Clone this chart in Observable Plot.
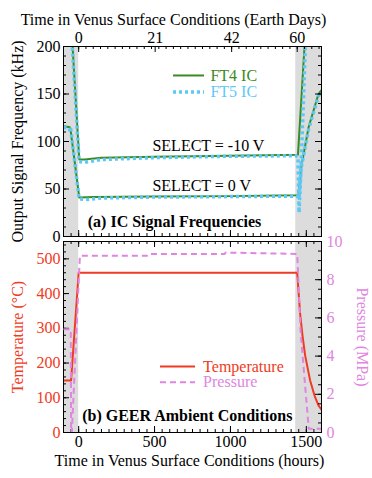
<!DOCTYPE html>
<html><head><meta charset="utf-8">
<script src="https://cdn.jsdelivr.net/npm/d3@7"></script>
<script src="https://cdn.jsdelivr.net/npm/@observablehq/plot@0.6"></script>
<style>
body{margin:0;background:#fff;}
#wrap{position:relative;width:372px;height:478px;}
#wrap svg{position:absolute;left:0;overflow:visible;font-family:"Liberation Serif",serif !important;font-size:16px !important;background:transparent !important;}
#wrap svg text{font-family:"Liberation Serif",serif !important;}
</style></head><body><div id="wrap"></div>
<script>
// ---- data (hours, value) ----
const hourTicks = [0, 500, 1000, 1500];
const dayTicks = [0, 21, 42, 60];
const freqTicks = [0, 50, 100, 150, 200];
const tempTicks = [0, 100, 200, 300, 400, 500];
const pressTicks = [0, 2, 4, 6, 8, 10];

const ft4Sel10 = [[-42,205],[4,81],[40,81],[150,83],[500,84],[1000,85],[1445,86],[1490,205]];
const ft4Sel0 = [[-100,116],[-58,115],[-54,113],[4,41],[100,41.5],[500,42],[1000,42.5],[1448,43.5],[1465,72],[1515,115],[1580,150],[1600,154]];
const ft5Sel10 = [[-44,205],[3,79],[40,78],[150,81],[500,83],[1000,84.5],[1432,85],[1445,84],[1452,25],[1462,60],[1495,205]];
const ft5Sel0 = [[-100,115],[-62,114],[-56,110],[-52,113],[3,39.5],[60,39],[150,40.5],[500,41.5],[1000,42],[1440,42.5],[1452,40],[1466,72],[1515,113],[1580,148],[1600,152]];

const temperature = [[-100,150],[-50,150],[0,460],[1440,460],[1459,342],[1475,278],[1492,222],[1525,150],[1555,105],[1580,78],[1600,66]];
const pressure = [[-100,5.4],[-52,5.4],[-50,0],[-45,0],[8,9.25],[450,9.25],[460,9.35],[960,9.35],[970,9.42],[1440,9.35],[1462,5.3],[1516,0.2],[1600,0.2]];

const shadeSpans = [[-100,0],[1430,1600]];

// ---- style ----
const STYLE = "font-family:'Liberation Serif',serif;font-size:16px;color:black;background:transparent;";
const green = "#3a8a22", blue = "#5ec8f5", red = "#f03a22", violet = "#e085e0", shade = "#dcdcdc";
const W = 372, ML = 63, MR = 51, FW = W - ML - MR;
const xDomain = [-100, 1600];

function ticksX(vals, len, side, FH) {
  const o = {x: d => d, stroke: "black", strokeWidth: 1};
  o[side === "bottom" ? "insetTop" : "insetBottom"] = FH - len;
  return Plot.tickX(vals, o);
}
function ticksY(vals, len, side) {
  const o = {y: d => d, stroke: "black", strokeWidth: 1};
  o[side === "left" ? "insetRight" : "insetLeft"] = FW - len;
  return Plot.tickY(vals, o);
}
const minorHours = d3.range(-100, 1601, 50);
const minorDays = d3.range(0, 67, 2).map(d => d * 24);
const dotted = {strokeWidth: 3.5, strokeDasharray: "3,3", strokeLinecap: "butt"};
const dashed = {strokeWidth: 2, strokeDasharray: "6,4", strokeLinecap: "butt"};

const wrap = document.getElementById("wrap");

// ---- top panel ----
const tH = 240, tMT = 46, tMB = 4, tFH = tH - tMT - tMB;
const p1 = Plot.plot({
  width: W, height: tH, marginTop: tMT, marginBottom: tMB, marginLeft: ML, marginRight: MR,
  style: STYLE,
  x: {domain: xDomain, axis: null},
  y: {domain: [0, 200], axis: null},
  marks: [
    Plot.rect(shadeSpans, {x1: d => d[0], x2: d => d[1], fill: shade}),
    Plot.line(ft4Sel10, {stroke: green, strokeWidth: 2, clip: true}),
    Plot.line(ft4Sel0, {stroke: green, strokeWidth: 2, clip: true}),
    Plot.line(ft5Sel10, {stroke: blue, ...dotted, clip: true}),
    Plot.line(ft5Sel0, {stroke: blue, ...dotted, clip: true}),
    ticksX(minorHours, 3, "bottom", tFH),
    ticksX(hourTicks, 6, "bottom", tFH),
    ticksX(minorDays, 3, "top", tFH),
    ticksX(dayTicks.map(d => d * 24), 6, "top", tFH),
    ticksY(d3.range(0, 201, 10), 3, "left"),
    ticksY(freqTicks, 6, "left"),
    ticksY(d3.range(0, 201, 10), 3, "right"),
    ticksY(freqTicks, 6, "right"),
    Plot.frame({stroke: "black"}),
    Plot.axisX(dayTicks.map(d => d * 24), {anchor: "top", tickSize: 0, tickPadding: 4, tickFormat: d => String(d / 24), label: null}),
    Plot.axisY(freqTicks, {anchor: "left", tickSize: 0, tickPadding: 3, tickFormat: d => String(d), label: null}),
    Plot.text(["Time in Venus Surface Conditions (Earth Days)"], {frameAnchor: "top", dx: -19, dy: -33, textAnchor: "middle"}),
    Plot.text(["Output Signal Frequency (kHz)"], {frameAnchor: "left", dx: -46, rotate: -90, textAnchor: "middle"}),
    Plot.ruleY([169.5], {x1: 625, x2: 829, stroke: green, strokeWidth: 2}),
    Plot.ruleY([152], {x1: 625, x2: 829, stroke: blue, ...dotted}),
    Plot.text(["FT4 IC"], {x: 868, y: 169.5, textAnchor: "start", fill: green}),
    Plot.text(["FT5 IC"], {x: 868, y: 152, textAnchor: "start", fill: blue}),
    Plot.text(["SELECT = -10 V"], {x: 486, y: 95, textAnchor: "start"}),
    Plot.text(["SELECT = 0 V"], {x: 486, y: 52.8, textAnchor: "start"}),
    Plot.text(["(a) IC Signal Frequencies"], {x: 60, y: 15, textAnchor: "start", fontWeight: "bold"})
  ]
});
p1.style.top = "0px";
wrap.appendChild(p1);

// ---- bottom panel ----
const bTop = 240, bH = 238, bMT = 1, bMB = 46, bFH = bH - bMT - bMB;
const p2 = Plot.plot({
  width: W, height: bH, marginTop: bMT, marginBottom: bMB, marginLeft: ML, marginRight: MR,
  style: STYLE,
  x: {domain: xDomain, axis: null},
  y: {domain: [0, 550], axis: null},
  marks: [
    Plot.rect(shadeSpans, {x1: d => d[0], x2: d => d[1], fill: shade}),
    Plot.line(temperature, {stroke: red, strokeWidth: 2, clip: true}),
    ticksX(minorHours, 3, "bottom", bFH),
    ticksX(hourTicks, 6, "bottom", bFH),
    ticksX(minorHours, 3, "top", bFH),
    ticksX(hourTicks, 6, "top", bFH),
    ticksY(d3.range(0, 551, 20), 3, "left"),
    ticksY(tempTicks, 6, "left"),
    Plot.frame({stroke: "black"}),
    Plot.axisX(hourTicks, {anchor: "bottom", tickSize: 0, tickPadding: 3, tickFormat: d => String(d), label: null}),
    Plot.axisY(tempTicks, {anchor: "left", tickSize: 0, tickPadding: 3, tickFormat: d => String(d), color: red, label: null}),
    Plot.text(["Time in Venus Surface Conditions (hours)"], {frameAnchor: "bottom", dx: -3, dy: 33, textAnchor: "middle"}),
    Plot.text(["Temperature (°C)"], {frameAnchor: "left", dx: -46, rotate: -90, textAnchor: "middle", fill: red}),
    Plot.ruleY([190], {x1: 539, x2: 770, stroke: red, strokeWidth: 2}),
    Plot.ruleY([145], {x1: 539, x2: 770, stroke: violet, ...dashed}),
    Plot.text(["Temperature"], {x: 820, y: 190, textAnchor: "start", fill: red}),
    Plot.text(["Pressure"], {x: 820, y: 145, textAnchor: "start", fill: violet}),
    Plot.text(["(b) GEER Ambient Conditions"], {x: 23, y: 49, textAnchor: "start", fontWeight: "bold"})
  ]
});
p2.style.top = bTop + "px";
wrap.appendChild(p2);

const p3 = Plot.plot({
  width: W, height: bH, marginTop: bMT, marginBottom: bMB, marginLeft: ML, marginRight: MR,
  style: STYLE,
  x: {domain: xDomain, axis: null},
  y: {domain: [0, 10], axis: null},
  marks: [
    Plot.line(pressure, {stroke: violet, ...dashed, clip: true}),
    ticksY(d3.range(0, 10.01, 0.5), 3, "right"),
    ticksY(pressTicks, 6, "right"),
    Plot.axisY(pressTicks, {anchor: "right", tickSize: 0, tickPadding: 5, tickFormat: d => String(d), color: violet, label: null}),
    Plot.text(["Pressure (MPa)"], {frameAnchor: "right", dx: 41, rotate: 90, textAnchor: "middle", fill: violet})
  ]
});
p3.style.top = bTop + "px";
wrap.appendChild(p3);
</script>
</body></html>
